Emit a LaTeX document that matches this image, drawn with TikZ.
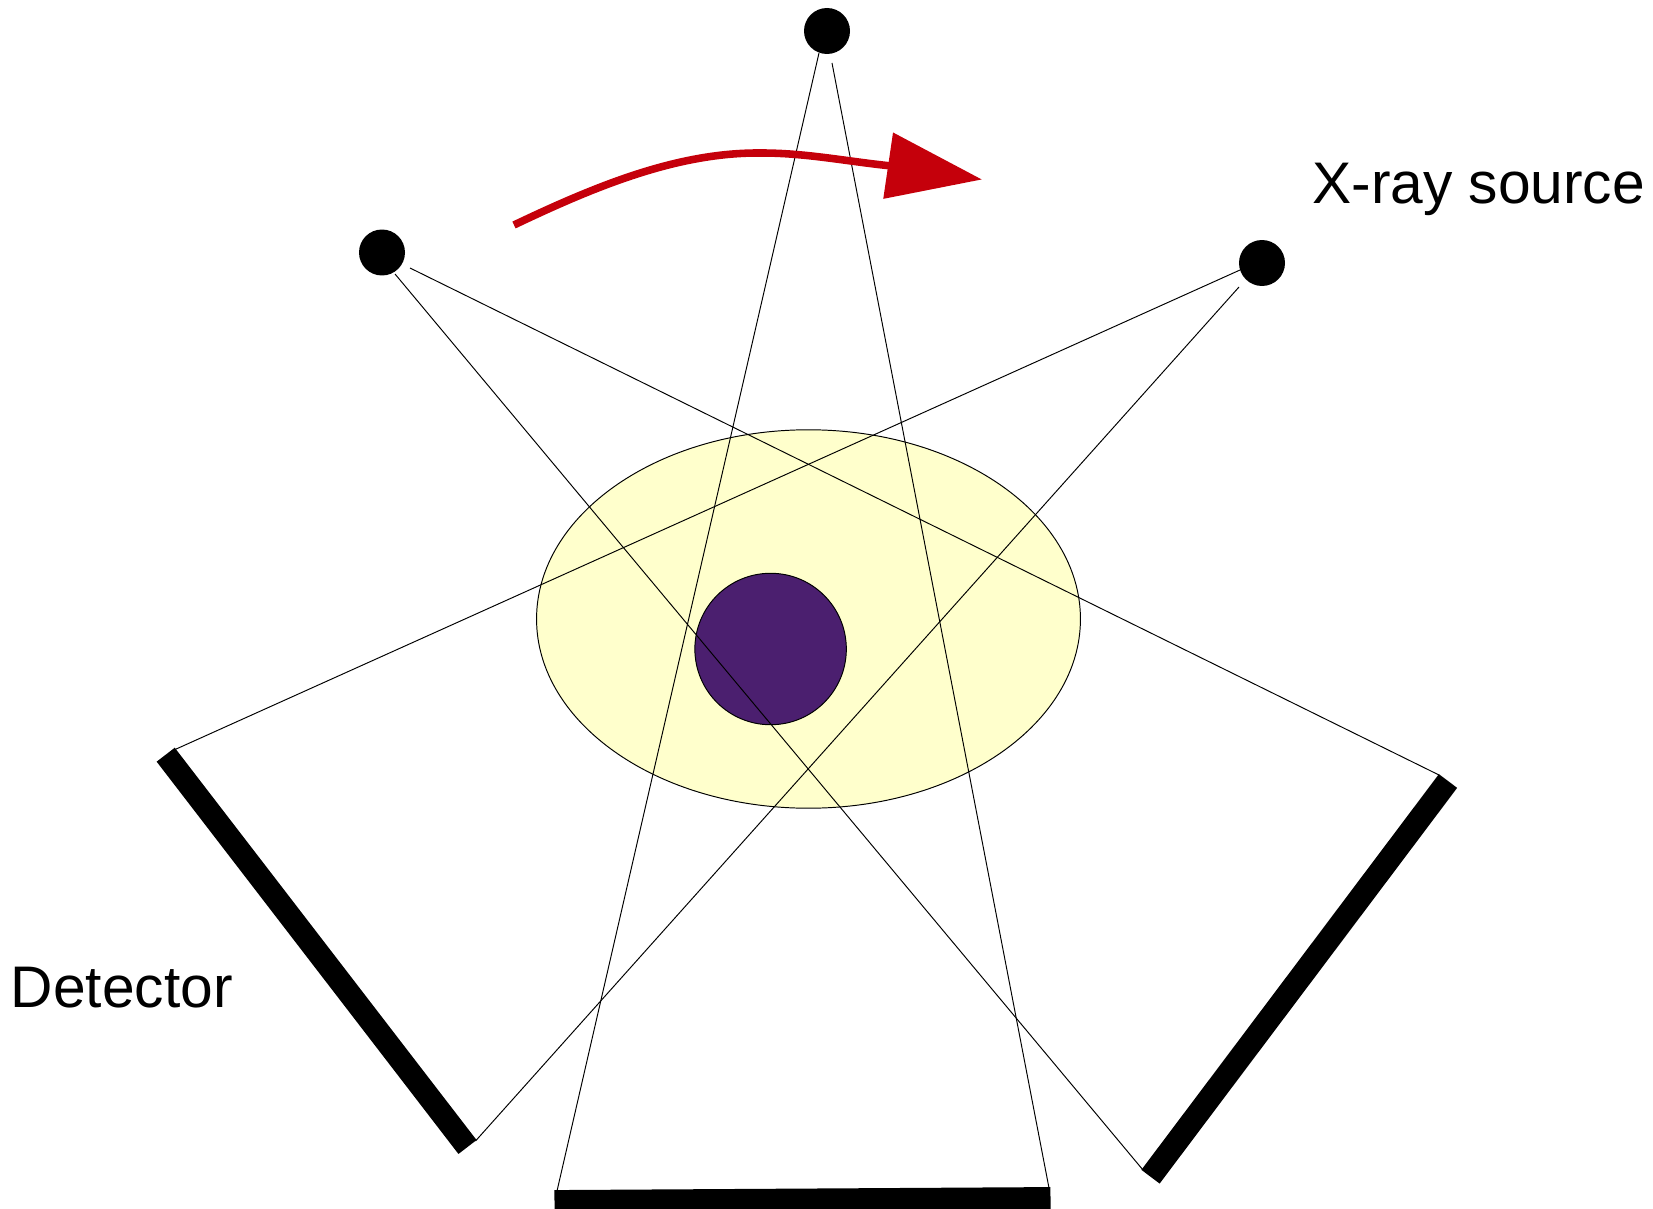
\documentclass[tikz,border=0pt]{standalone}
\usepackage{fontspec}
\setmainfont{Liberation Sans}
\usepackage{xcolor}
\usetikzlibrary{arrows.meta, shapes.geometric}
\definecolor{rotRed}  {RGB}{197,0,11}
\definecolor{lYellow} {RGB}{255,255,204}
\definecolor{dkPurple}{RGB}{75,31,111}

\begin{document}
\begin{tikzpicture}[x=0.02cm, y=-0.02cm, font=\fontsize{33.4}{40}\selectfont,
    SRC/.style={circle, fill=black, inner sep=0pt, minimum size=0.92cm},
    BEAM/.style={line width=0.55pt, black},
    DET/.style={line width=13pt, black},
    LBL/.style={anchor=base west, inner sep=0pt}]
    \useasboundingbox (0,0) rectangle (1653,1209);
    % body and target
    \node[draw, line width=0.55pt, fill=lYellow, ellipse, inner sep=0pt, minimum width=10.88cm, minimum height=7.57cm] (body) at (808.5,619) {};
    \node[draw, line width=0.55pt, fill=dkPurple, circle, inner sep=0pt, minimum size=3.03cm] (target) at (770.6,649) {};
    % sources
    \node[SRC] (srcTop) at (827,31) {};
    \node[SRC] (srcLeft) at (382,252.5) {};
    \node[SRC] (srcRight) at (1262,263) {};
    % detectors
    \coordinate (detLeftA) at (165.7,754.7); \coordinate (detLeftB) at (467.5,1147);
    \coordinate (detBotA) at (554.5,1201.5); \coordinate (detBotB) at (1050.5,1198.5);
    \coordinate (detRightA) at (1150.5,1176.7); \coordinate (detRightB) at (1448,781);
    \draw[DET] (detLeftA) -- (detLeftB);
    \draw[DET] (detBotA) -- (detBotB);
    \draw[DET] (detRightA) -- (detRightB);
    % beams
    \coordinate (topA) at (819,53); \coordinate (topB) at (832,63);
    \coordinate (leftA) at (395,274); \coordinate (leftB) at (410,268);
    \coordinate (rightA) at (1240,270); \coordinate (rightB) at (1239,287);
    \coordinate (endTopA) at (557,1191); \coordinate (endTopB) at (1049,1188);
    \coordinate (endLeftA) at (1143,1170); \coordinate (endLeftB) at (1439,775);
    \coordinate (endRightA) at (174,750); \coordinate (endRightB) at (475.5,1141);
    \draw[BEAM] (topA) -- (endTopA); \draw[BEAM] (topB) -- (endTopB);
    \draw[BEAM] (leftA) -- (endLeftA); \draw[BEAM] (leftB) -- (endLeftB);
    \draw[BEAM] (rightA) -- (endRightA); \draw[BEAM] (rightB) -- (endRightB);
    % rotation
    \coordinate (rotA) at (514,225); \coordinate (rotB) at (982,179.5);
    \draw[rotRed, line width=4.3pt, -{Triangle[length=54pt,width=37pt]}] (rotA) .. controls (600,184) and (680,152) .. (762,153) .. controls (805,153) and (845,161) .. (887,165.5) -- (rotB);
    % labels
    \node[LBL] (lblSource) at (1312,204) {X-ray source};
    \node[LBL] (lblDetector) at (10.5,1007) {Detector};
\end{tikzpicture}
\end{document}
